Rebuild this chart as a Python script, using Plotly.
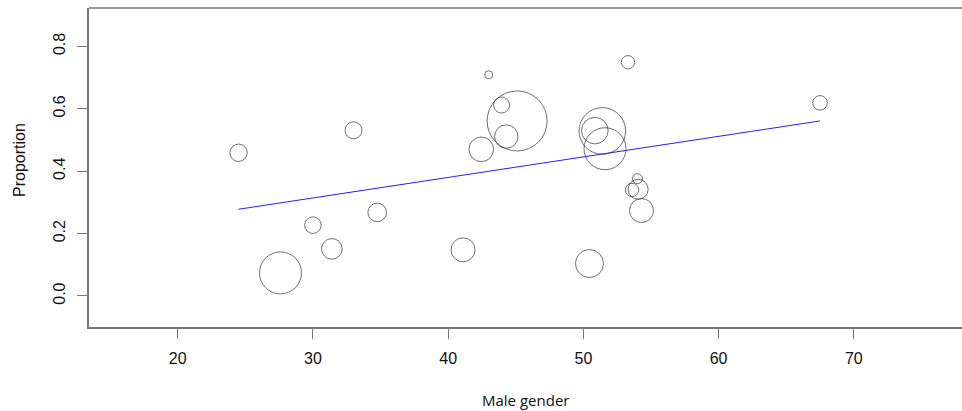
import plotly.graph_objects as go

# Study-level data: male gender (%) vs proportion, bubble weight
male_gender = [24.5, 33.0, 30.0, 34.75, 31.4, 27.6, 41.1, 42.45, 43.0, 45.1, 43.95,
               44.3, 51.4, 50.85, 51.6, 54.0, 54.05, 53.6, 54.3, 50.45, 53.3, 67.5]
proportion = [0.459, 0.531, 0.227, 0.268, 0.151, 0.074, 0.148, 0.470, 0.709, 0.561, 0.612,
              0.511, 0.529, 0.530, 0.472, 0.376, 0.342, 0.340, 0.274, 0.104, 0.749, 0.619]
weights = [8.7, 8.5, 8.3, 9.3, 10.3, 21.0, 12.0, 12.3, 4.0, 30.0, 8.0,
           11.7, 23.3, 13.3, 21.0, 5.0, 10.0, 6.7, 12.0, 14.0, 6.7, 7.3]

# Meta-regression fit line
reg_x = [24.5, 67.5]
reg_y = [0.278, 0.561]

x_ticks = [20, 30, 40, 50, 60, 70]
y_ticks = [0.0, 0.2, 0.4, 0.6, 0.8]
y_tick_labels = ["0.0", "0.2", "0.4", "0.6", "0.8"]

fig = go.Figure()
fig.add_trace(go.Scatter(
    x=reg_x, y=reg_y, mode="lines",
    line=dict(color="#2020ff", width=1), hoverinfo="skip", showlegend=False))
fig.add_trace(go.Scatter(
    x=male_gender, y=proportion, mode="markers",
    marker=dict(size=weights, sizemode="diameter", sizeref=0.5,
                color="rgba(0,0,0,0)", line=dict(color="#333333", width=1)),
    showlegend=False))

axis_col = "#777777"
tick_font = dict(family="Liberation Sans, Arial, sans-serif", size=16, color="#111111")

fig.update_layout(
    width=962, height=411,
    margin=dict(l=89, r=0, t=8, b=84),
    paper_bgcolor="white", plot_bgcolor="white",
    xaxis=dict(range=[13.44, 78.0], tickvals=x_ticks, ticks="outside", ticklen=10,
               tickcolor=axis_col, tickwidth=1.3, showgrid=False, zeroline=False,
               showline=True, linecolor=axis_col, linewidth=1.5,
               tickfont=tick_font, ticklabelstandoff=6),
    yaxis=dict(range=[-0.0994, 0.923], tickvals=y_ticks, ticktext=y_tick_labels,
               ticks="outside", ticklen=10, tickangle=-90,
               tickcolor=axis_col, tickwidth=1.3, showgrid=False, zeroline=False,
               showline=True, linecolor=axis_col, linewidth=1.5,
               tickfont=tick_font, ticklabelstandoff=6),
    shapes=[dict(type="line", xref="paper", yref="paper", x0=0, x1=1, y0=1, y1=1,
                 line=dict(color=axis_col, width=1.5))],
    annotations=[
        dict(text="Male gender", xref="paper", yref="paper", x=0.5, y=-0.2288,
             xanchor="center", yanchor="middle", showarrow=False,
             font=dict(family="Open Sans, sans-serif", size=15, color="#111111")),
        dict(text="Proportion", xref="paper", yref="paper", x=-0.0802, y=0.5235,
             xanchor="center", yanchor="middle", textangle=-90, showarrow=False,
             font=dict(family="Liberation Sans, Arial, sans-serif", size=16, color="#111111")),
    ],
)

fig.write_html("out.html", config={"displayModeBar": False},
               post_script="document.body.style.margin='0';document.body.style.overflow='hidden';")
